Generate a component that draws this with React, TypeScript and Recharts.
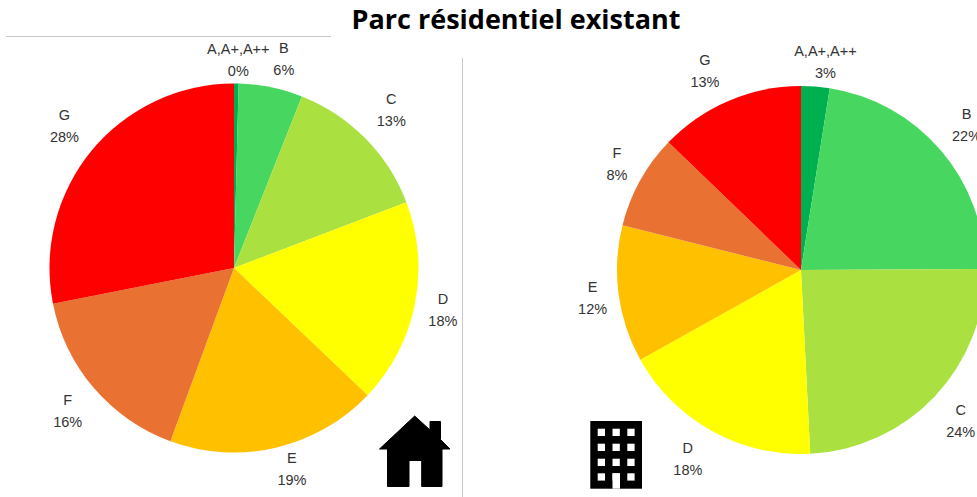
import React from "react";
import { PieChart, Pie, Cell } from "recharts";

const classes = ["A,A+,A++", "B", "C", "D", "E", "F", "G"];
const houseValues = [0.4, 5.6, 13.2, 17.9, 18.5, 16.3, 28.1];
const buildingValues = [2.5, 22.4, 24.3, 17.7, 12.0, 8.3, 12.8];
const colors = ["#00B050", "#47D65F", "#AAE040", "#FFFF00", "#FFC000", "#E97132", "#FF0000"];

const houseLabelOffsets = [[2, -24], [13, -28], [26, -28], [28, 6], [16, 21], [-26, 23], [-27, -25]];
const buildingLabelOffsets = [[10, -25], [26, -25], [26, 25], [-24, 28], [-26, 4], [-23, -17], [-24, -30]];

const toRows = (values: number[]) => classes.map((name, i) => ({ name, value: values[i] }));
const houseData = toRows(houseValues);
const buildingData = toRows(buildingValues);

const FONT = "'Liberation Sans', Arial, sans-serif";

const makeLabel = (offsets: number[][]) => (props: any) => {
  const { cx, cy, midAngle, outerRadius, name, value, index } = props;
  const rad = (midAngle * Math.PI) / 180;
  const x = cx + outerRadius * Math.cos(rad) + offsets[index][0];
  const y = cy - outerRadius * Math.sin(rad) + offsets[index][1];
  return (
    <text x={x} y={y} textAnchor="middle" fontFamily={FONT} fontSize={14.5} fill="#333333">
      <tspan x={x} y={y - 6}>{name}</tspan>
      <tspan x={x} y={y + 16}>{Math.round(value)}%</tspan>
    </text>
  );
};

const windowCols = [597.7, 612.5, 627.3];
const windowRows = [428.7, 443.7, 458.7, 473.3];

export default function App() {
  return (
    <div style={{ position: "absolute", left: 0, top: 0, width: 977, height: 497, overflow: "hidden", background: "#fff" }}>
      <div
        style={{
          position: "absolute",
          left: 0,
          width: 1032,
          top: 2,
          textAlign: "center",
          fontFamily: "'Open Sans', sans-serif",
          fontWeight: 700,
          fontSize: 27,
          lineHeight: "34px",
          color: "#000",
          whiteSpace: "nowrap",
        }}
      >
        Parc résidentiel existant
      </div>
      <div style={{ position: "absolute", left: 6, top: 36, width: 325, height: 1, background: "#C8C8C8" }} />
      <div style={{ position: "absolute", left: 462, top: 58, width: 1, height: 439, background: "#C8C8C8" }} />
      <div style={{ position: "absolute", left: 0, top: 0 }}>
        <PieChart width={1000} height={497} margin={{ top: 0, right: 0, bottom: 0, left: 0 }}>
          <Pie
            data={houseData}
            dataKey="value"
            nameKey="name"
            cx={234}
            cy={268}
            outerRadius={184.5}
            startAngle={90}
            endAngle={-270}
            stroke="none"
            isAnimationActive={false}
            labelLine={false}
            label={makeLabel(houseLabelOffsets)}
          >
            {houseData.map((d, i) => <Cell key={d.name} fill={colors[i]} />)}
          </Pie>
          <Pie
            data={buildingData}
            dataKey="value"
            nameKey="name"
            cx={801}
            cy={270}
            outerRadius={184}
            startAngle={90}
            endAngle={-270}
            stroke="none"
            isAnimationActive={false}
            labelLine={false}
            label={makeLabel(buildingLabelOffsets)}
          >
            {buildingData.map((d, i) => <Cell key={d.name} fill={colors[i]} />)}
          </Pie>
        </PieChart>
      </div>
      <svg width={977} height={497} style={{ position: "absolute", left: 0, top: 0, pointerEvents: "none" }}>
        <path
          d="M414.7 416 L430 430 L430 421.5 L440.5 421.5 L440.5 439.5 L450 449 L442 449 L442 486.5 L421.7 486.5 L421.7 460.5 L409 460.5 L409 486.5 L387.5 486.5 L387.5 449 L379.5 449 Z"
          fill="#000"
          stroke="#000"
          strokeWidth={1}
          strokeLinejoin="round"
        />
        <rect x={590.3} y={421} width={51.7} height={67.7} fill="#000" />
        {windowRows.map((y) =>
          windowCols.map((x) => <rect key={`${x}-${y}`} x={x} y={y} width={7.3} height={7.3} fill="#fff" />)
        )}
        <rect x={612.5} y={473.3} width={7.5} height={15.4} fill="#fff" />
      </svg>
    </div>
  );
}
